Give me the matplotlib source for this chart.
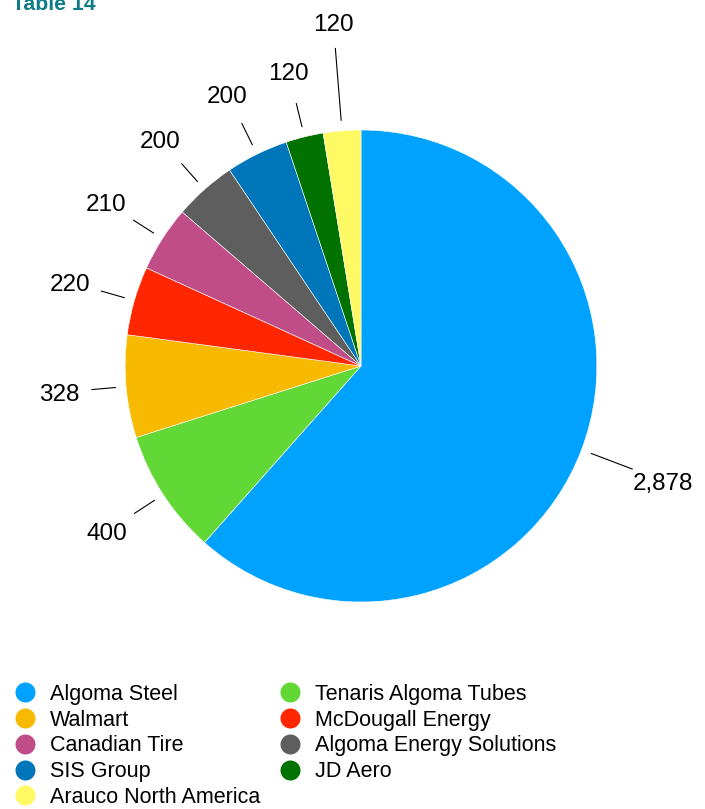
import numpy as np
import matplotlib.pyplot as plt
from matplotlib.lines import Line2D

plt.rcParams['font.family'] = ['Liberation Sans', 'DejaVu Sans']

# dados da tabela 14
companies = ['Algoma Steel', 'Tenaris Algoma Tubes', 'Walmart', 'McDougall Energy',
             'Canadian Tire', 'Algoma Energy Solutions', 'SIS Group', 'JD Aero',
             'Arauco North America']
employees = [2878, 400, 328, 220, 210, 200, 200, 120, 120]
value_labels = ['2,878', '400', '328', '220', '210', '200', '200', '120', '120']
colors = ['#00A2FF', '#61D836', '#F8BA00', '#FF2600', '#C04C88',
          '#5E5E5E', '#0076BA', '#017100', '#FFFA64']

fig = plt.figure(figsize=(7.05, 8.09), dpi=100)
ax = fig.add_axes([19 / 705, 89 / 809, 684 / 705, 708 / 809])

wedges, _ = ax.pie(employees, colors=colors, startangle=90, counterclock=False,
                   radius=1, wedgeprops=dict(edgecolor='white', linewidth=0.4))
ax.set_xlim(-1.45, 1.45)
ax.set_ylim(-1.5, 1.5)
ax.set_aspect('auto')
ax.axis('off')

# rótulos com linhas de chamada
text_r = [1.37, 1.285, 1.285, 1.285, 1.285, 1.285, 1.285, 1.285, 1.46]
for w, lab, tr in zip(wedges, value_labels, text_r):
    ang = np.deg2rad((w.theta1 + w.theta2) / 2)
    c, s = np.cos(ang), np.sin(ang)
    r_out = tr - 0.14 if tr < 1.4 else tr - 0.11
    ax.plot([1.045 * c, r_out * c], [1.045 * s, r_out * s], color='black', lw=0.8)
    ax.text(tr * c, tr * s - 0.012, lab, ha='center', va='center', fontsize=17.5)

# título cortado no topo (como na imagem original)
fig.text(12 / 705, 1 - 10 / 809, 'Table 14', color='#0E7C86', fontsize=15.3,
         fontweight='bold', va='baseline', ha='left')

# legenda em duas colunas, preenchida por linhas
order = [0, 2, 4, 6, 8, 1, 3, 5, 7]
handles = [Line2D([], [], marker='o', linestyle='none', markersize=14.4,
                  markerfacecolor=colors[i], markeredgecolor='none') for i in order]
labels = [companies[i] for i in order]
fig.legend(handles, labels, ncol=2, loc='upper left',
           bbox_to_anchor=(14 / 705, 1 - 684 / 809), frameon=False, fontsize=15.5,
           handlelength=1.0, handletextpad=0.66, labelspacing=0.22,
           columnspacing=0.9, borderaxespad=0, borderpad=0)

plt.savefig('out.png', dpi=100)
